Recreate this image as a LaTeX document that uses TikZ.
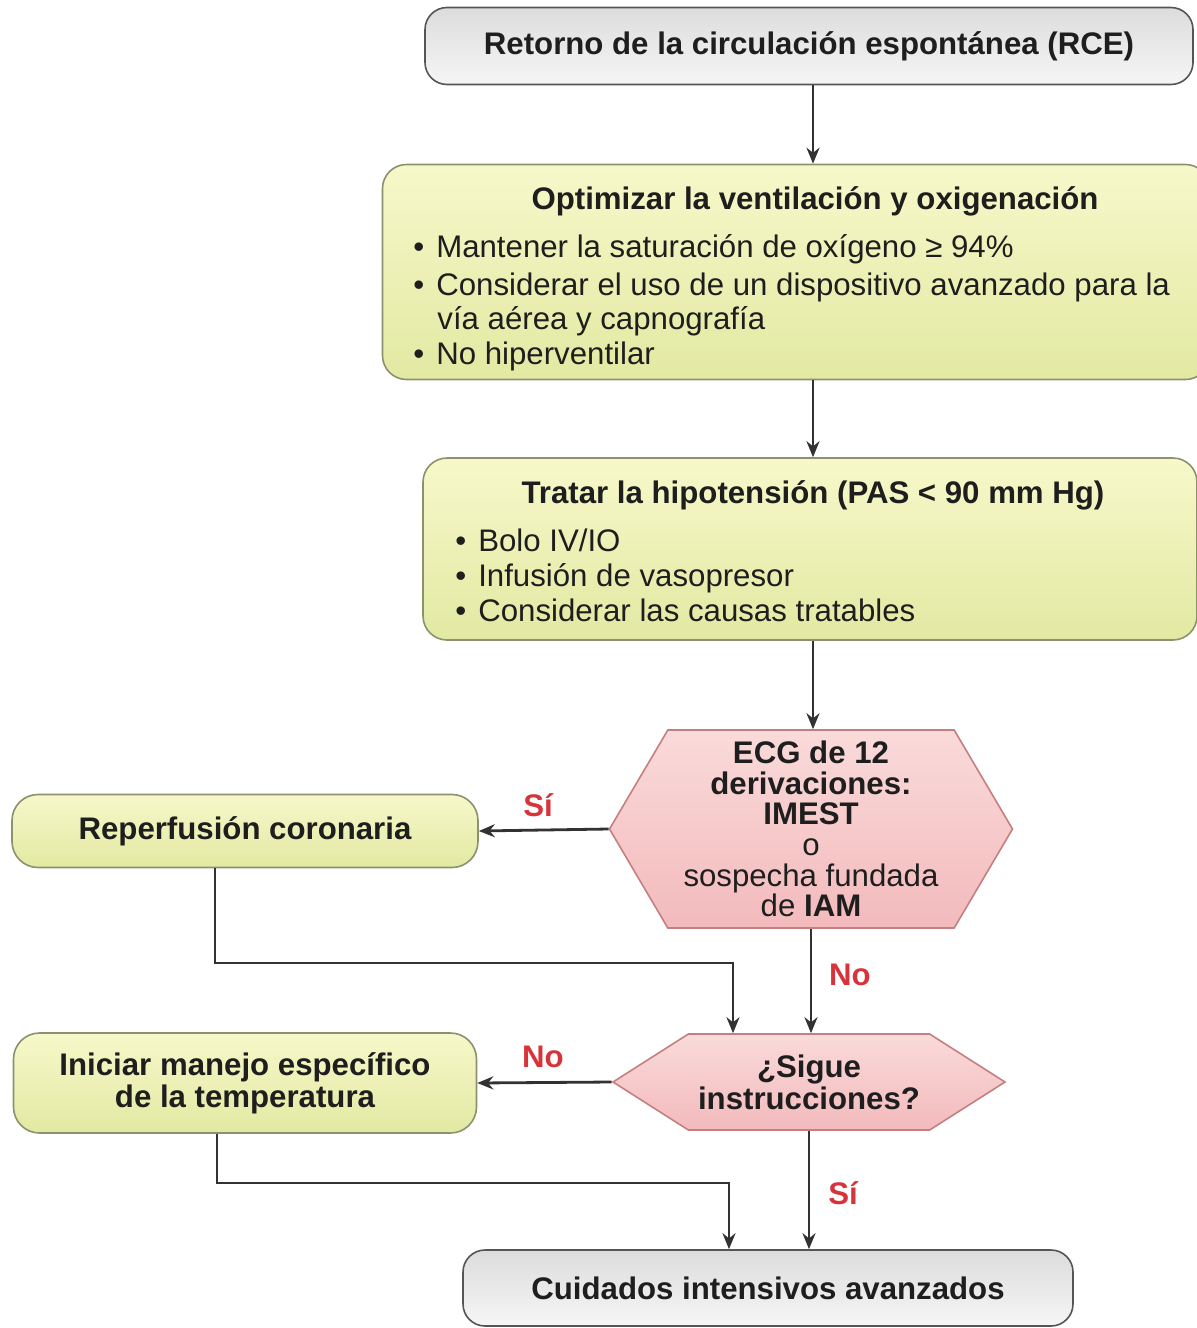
\documentclass[tikz,border=0pt]{standalone}
\usepackage{fontspec}
\setmainfont{Liberation Sans}
\usepackage{tikz}
\usetikzlibrary{positioning, arrows.meta, shapes.symbols, calc}
\usepackage{xcolor}
\definecolor{graytop}{RGB}{220, 220, 220}
\definecolor{graybot}{RGB}{246, 246, 246}
\definecolor{boxline}{RGB}{85, 85, 85}
\definecolor{greentop}{RGB}{247, 248, 202}
\definecolor{greenbot}{RGB}{226, 233, 162}
\definecolor{greenline}{RGB}{140, 145, 110}
\definecolor{pinktop}{RGB}{250, 218, 218}
\definecolor{pinkbot}{RGB}{243, 186, 188}
\definecolor{pinkline}{RGB}{196, 128, 128}
\definecolor{labelred}{RGB}{214, 52, 58}
\definecolor{arrowgray}{RGB}{50, 50, 50}
\definecolor{inkgray}{RGB}{30, 30, 30}

\begin{document}
\begin{tikzpicture}[x=0.5pt, y=-0.5pt, >={Stealth[length=8pt, width=6.5pt]}, text=inkgray,
    font=\fontsize{15.6}{16}\selectfont,
    graybox/.style={draw=boxline, line width=0.8pt, rounded corners=11pt,
      top color=graytop, bottom color=graybot, inner sep=0pt},
    greenbox/.style={draw=greenline, line width=0.8pt, rounded corners=12pt,
      top color=greentop, bottom color=greenbot, inner sep=0pt},
    hexbox/.style={draw=pinkline, line width=0.8pt, top color=pinktop,
      bottom color=pinkbot, signal, signal to=west and east, inner sep=0pt},
    arr/.style={->, line width=1.4pt, draw=arrowgray},
    answer/.style={text=labelred, font=\fontsize{15.6}{16}\selectfont\bfseries}]
  \useasboundingbox (0,0) rectangle (1197,1328);

  \node[graybox, minimum width=384pt, minimum height=38.5pt] (rce) at (809,46)
        {\bfseries Retorno de la circulación espontánea (RCE)};

  \node[greenbox, minimum width=413.5pt, minimum height=107.5pt] (opt) at (796,272) {};
  \node[anchor=base] (optT) at (815,209) {\bfseries Optimizar la ventilación y oxigenación};
  \foreach \y/\t in {257/Mantener la saturación de oxígeno ≥ 94\%,
                     295/Considerar el uso de un dispositivo avanzado para la,
                     364/No hiperventilar}{
    \node[anchor=base west, inner sep=0pt] (opt-\y) at (413,\y) {\textbullet\hspace{6pt}\t};
  }
  \node[anchor=base west, inner sep=0pt] (opt-329) at (437,329) {vía aérea y capnografía};

  \node[greenbox, minimum width=387pt, minimum height=91pt] (hyp) at (810,549) {};
  \node[anchor=base] (hypT) at (813,503) {\bfseries Tratar la hipotensión (PAS < 90 mm Hg)};
  \foreach \y/\t in {551/{Bolo IV/IO}, 586/Infusión de vasopresor, 621/Considerar las causas tratables}{
    \node[anchor=base west, inner sep=0pt] (hyp-\y) at (455,\y) {\textbullet\hspace{6pt}\t};
  }

  \node[hexbox, minimum width=201.5pt, minimum height=99pt, signal pointer angle=119,
        align=center, font=\fontsize{15.6}{15.3}\selectfont] (ecg) at (811,829)
        {\bfseries ECG de 12\\ \bfseries derivaciones:\\ \bfseries IMEST\\ o\\
         sospecha fundada\\ de \textbf{IAM}};

  \node[greenbox, minimum width=233pt, minimum height=36.5pt, rounded corners=13pt]
        (rep) at (245,831) {\bfseries Reperfusión coronaria};

  \node[hexbox, minimum width=196pt, minimum height=48pt, signal pointer angle=65,
        align=center] (sig) at (809,1082) {\bfseries ¿Sigue\\ \bfseries instrucciones?};

  \node[greenbox, minimum width=231.5pt, minimum height=50pt, rounded corners=13pt,
        align=center] (ini) at (245,1083) {\bfseries Iniciar manejo específico\\ \bfseries de la temperatura};

  \node[graybox, minimum width=305pt, minimum height=38pt] (icu) at (768,1288)
        {\bfseries Cuidados intensivos avanzados};

  \node[answer] (si1) at (538,805) {Sí};
  \node[answer] (no1) at (850,975) {No};
  \node[answer] (no2) at (543,1057) {No};
  \node[answer] (si2) at (843,1193) {Sí};

  \coordinate (spine) at (813,0);
  \coordinate (joinA) at (733,963);
  \coordinate (joinB) at (729,1183);

  \draw[arr] (rce.south -| spine) -- (opt.north -| spine);
  \draw[arr] (opt.south -| spine) -- (hyp.north -| spine);
  \draw[arr] (hyp.south -| spine) -- (ecg.north -| spine);
  \draw[arr] (ecg.west) -- (rep.east);
  \draw[arr] (ecg.south) -- (ecg.south |- sig.north);
  \draw[arr] ([xshift=-15pt]rep.south) |- (joinA) -- (joinA |- sig.north);
  \draw[arr] (sig.west) -- (ini.east);
  \draw[arr] (sig.south) -- (sig.south |- icu.north);
  \draw[arr] ([xshift=-14pt]ini.south) |- (joinB) -- (joinB |- icu.north);
\end{tikzpicture}
\end{document}
